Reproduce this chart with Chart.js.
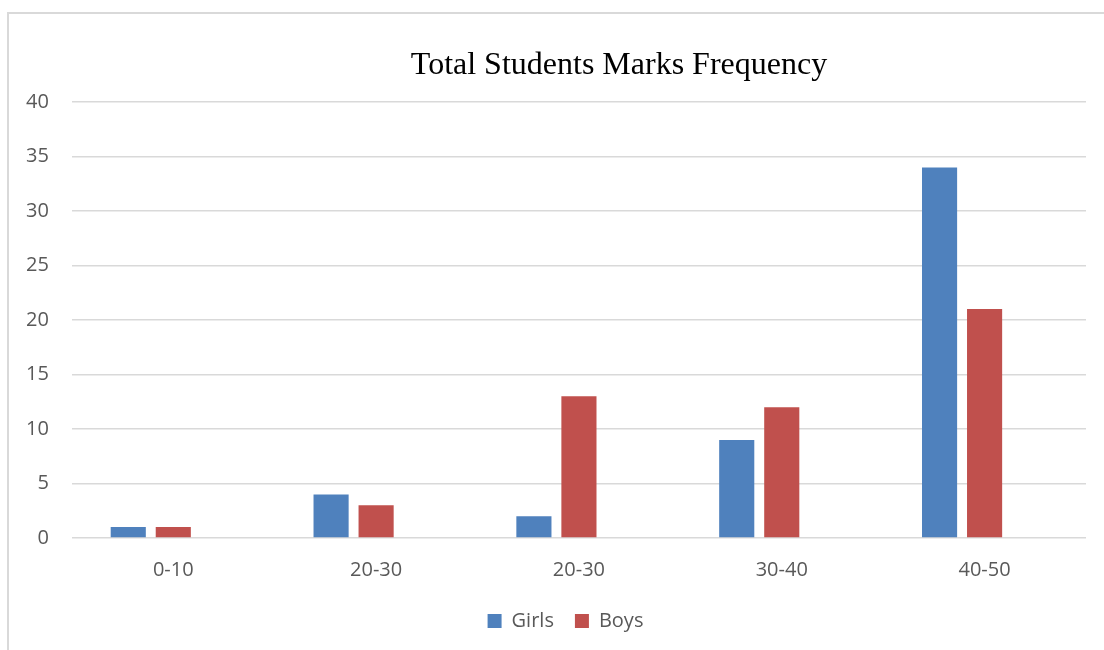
<!DOCTYPE html>
<html>
<head>
<meta charset="utf-8">
<script src="https://cdn.jsdelivr.net/npm/chart.js@4"></script>
<style>
  html, body { margin: 0; padding: 0; background: #ffffff; }
  #wrap { position: relative; width: 1104px; height: 650px; }
  #frame { position: absolute; left: 7px; top: 12px; width: 1200px; height: 700px;
           border: 2px solid #d9d9d9; box-sizing: border-box; }
  canvas { position: absolute; left: 0; top: 0; }
</style>
</head>
<body>
<div id="wrap">
  <div id="frame"></div>
  <canvas id="chart" width="1104" height="650"></canvas>
</div>
<script>
// Mark ranges and student counts per range
const categories = ['0-10', '20-30', '20-30', '30-40', '40-50'];
const girls = [1, 4, 2, 9, 34];
const boys = [1, 3, 13, 12, 21];
// third slot in each group is left empty
const emptySlot = [null, null, null, null, null];
const yTicks = [0, 5, 10, 15, 20, 25, 30, 35, 40];

const titleText = 'Total Students Marks Frequency';

// Title drawn centred over the whole (wider) chart frame
const titlePlugin = {
  id: 'frameTitle',
  afterDraw(chart) {
    const ctx = chart.ctx;
    ctx.save();
    ctx.font = '32px "Liberation Serif", "Times New Roman", serif';
    ctx.fillStyle = '#000000';
    ctx.textAlign = 'center';
    ctx.textBaseline = 'alphabetic';
    ctx.fillText(titleText, 619, 74);
    ctx.restore();
  }
};

// Nudge the legend row so it sits under the frame's centre
const legendShift = {
  id: 'legendShift',
  afterLayout(chart) {
    const lg = chart.legend;
    if (lg) { lg.left += 21; lg.right += 21; }
  }
};

const tickFont = { family: '"Open Sans", sans-serif', size: 20 };

new Chart(document.getElementById('chart'), {
  type: 'bar',
  data: {
    labels: categories,
    datasets: [
      { label: 'Girls', data: girls, backgroundColor: '#4F81BD' },
      { label: 'Boys', data: boys, backgroundColor: '#C0504D' },
      { label: '', data: emptySlot, backgroundColor: '#9BBB59' }
    ]
  },
  options: {
    responsive: false,
    animation: false,
    events: [],
    categoryPercentage: 0.666,
    barPercentage: 0.78,
    layout: { padding: { left: 3, right: 18, top: 102, bottom: 9 } },
    plugins: {
      title: { display: false },
      tooltip: { enabled: false },
      legend: {
        position: 'bottom',
        labels: {
          filter: (item) => item.text !== '',
          boxWidth: 14,
          boxHeight: 14,
          padding: 21,
          color: '#595959',
          font: tickFont
        }
      }
    },
    scales: {
      x: {
        grid: { display: false, drawTicks: false },
        border: { display: false },
        ticks: { color: '#595959', font: tickFont, padding: 20 },
        afterFit(scale) { scale.height = 52; }
      },
      y: {
        min: 0,
        max: 40,
        afterBuildTicks(scale) { scale.ticks = yTicks.map(v => ({ value: v })); },
        grid: { color: '#d9d9d9', lineWidth: 1.5, drawTicks: false },
        border: { display: false },
        ticks: { color: '#595959', font: tickFont, padding: 23 }
      }
    }
  },
  plugins: [titlePlugin, legendShift]
});
</script>
</body>
</html>
